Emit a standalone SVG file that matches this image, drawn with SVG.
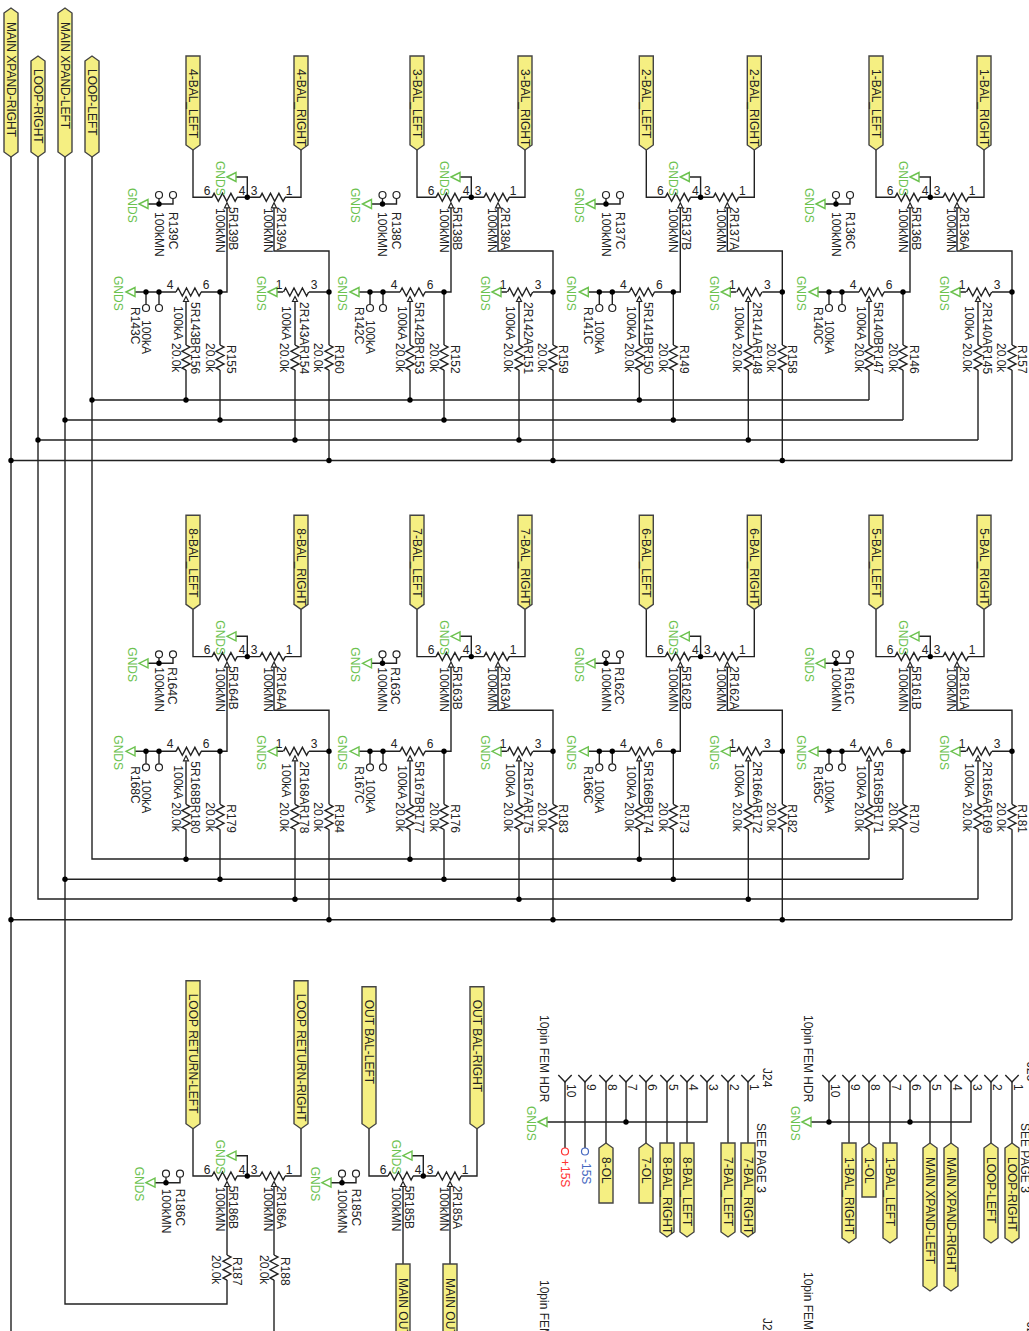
<svg xmlns="http://www.w3.org/2000/svg" width="1029" height="1331" viewBox="0 0 1029 1331">
<style>
text{font:12px "Liberation Sans",Arial,sans-serif;fill:#222}
.n{text-anchor:middle}
.g{fill:#6cc24f}
.w{fill:none;stroke:#222;stroke-width:1.4}
.t{fill:#f5ef82;stroke:#444;stroke-width:1.4}
.gt{fill:#fff;stroke:#6cc24f;stroke-width:1.4}
.o{fill:#fff;stroke:#222;stroke-width:1.2}
.d{fill:#000}
</style>
<defs>
<path id="zh" class="w" d="M0 0l2.1-4 4.2 8 4.2-8 4.2 8 4.2-8 4.2 8 2.1-4"/>
<path id="zv" class="w" d="M0 0l4 2.1-8 4.2 8 4.2-8 4.2 8 4.2-8 4.2 4 2.1"/>
<path id="wp" class="o" d="M0 5.5L2.5 10.5H-2.5Z"/>
<path id="gnd" class="gt" d="M0 0L9-4.5V4.5Z"/>
<circle id="dot" class="d" r="2.7"/>
<circle id="oc" class="o" r="3.5"/>
<path id="tagB" class="t" d="M-7 0H7V89L0 94-7 89Z"/>
<path id="uw" class="w" d="M193 150V197.3H212M237 197.3H260M285 197.3H301V150M236 177H247.3V197.3"/>
<path id="lw" class="w" d="M227 207.7V292H201M176 292H135M146 292V304.5M159 292V304.5M186 302V345M186 370V400M220 292V345M220 370V420M295 302V345M295 370V440M274 207.7V251H329V345M329 370V460.5M276 292H283M309 292H329"/>
<path id="cw" class="w" d="M148 204H173V198.5M159 198.5V204"/>
<g id="upot">
<use href="#zh" x="212" y="197.3"/><use href="#zh" x="260" y="197.3"/>
<use href="#wp" x="227" y="197.3"/><use href="#wp" x="274" y="197.3"/>
<use href="#dot" x="247.3" y="197.3"/><use href="#gnd" x="227" y="177"/>
</g>
<g id="lpot">
<use href="#zh" x="176" y="292"/><use href="#zh" x="283.500" y="292"/>
<use href="#wp" x="186" y="291"/><use href="#wp" x="295" y="291"/>
<use href="#zv" x="186" y="345"/><use href="#zv" x="220" y="345"/><use href="#zv" x="295" y="345"/><use href="#zv" x="329" y="345"/>
<use href="#dot" x="146" y="292"/><use href="#dot" x="159" y="292"/><use href="#dot" x="220" y="292"/><use href="#dot" x="329" y="292"/>
<use href="#oc" x="146" y="308"/><use href="#oc" x="159" y="308"/>
<use href="#gnd" x="126" y="292"/><use href="#gnd" x="268" y="292"/>
</g>
<g id="csym">
<use href="#oc" x="159" y="195"/><use href="#oc" x="173" y="195"/><use href="#dot" x="159" y="204"/><use href="#gnd" x="139" y="204"/>
</g>
</defs>

<g id="connectors">
<path class="w" d="M11 157V1331M38 157V899H978M65 157V1304H227V1280M92 157V859H869M92 400H869M65 420H903M38 440H978M11 460.500H1012M65 879.300H903M11 919.800H1012"/>
<path class="w" d="M274 1280V1331M227 1186V1255M274 1186V1255M403 1186V1264M450 1186V1264"/>
<use href="#uw"/><use href="#lw"/><use href="#uw" x="224"/><use href="#lw" x="224"/><use href="#uw" x="453.300"/><use href="#lw" x="453.300"/><use href="#uw" x="683"/><use href="#lw" x="683"/>
<use href="#uw" y="459.300"/><use href="#lw" y="459.300"/><use href="#uw" x="224" y="459.300"/><use href="#lw" x="224" y="459.300"/><use href="#uw" x="453.300" y="459.300"/><use href="#lw" x="453.300" y="459.300"/><use href="#uw" x="683" y="459.300"/><use href="#lw" x="683" y="459.300"/>
<use href="#uw" y="978.700"/><use href="#uw" x="176" y="978.700"/>
<use href="#cw"/><use href="#cw" x="223.500"/><use href="#cw" x="447"/><use href="#cw" x="677"/>
<use href="#cw" y="459.300"/><use href="#cw" x="223.500" y="459.300"/><use href="#cw" x="447" y="459.300"/><use href="#cw" x="677" y="459.300"/>
<use href="#cw" x="7" y="978.700"/><use href="#cw" x="183" y="978.700"/>
<path class="w" d="M558.300 1075L565 1082 571.700 1075M578.300 1075L585 1082 591.700 1075M599.300 1075L606 1082 612.700 1075M619.300 1075L626 1082 632.700 1075M639.300 1075L646 1082 652.700 1075M660.300 1075L667 1082 673.700 1075M680.300 1075L687 1082 693.700 1075M700.300 1075L707 1082 713.700 1075M721.300 1075L728 1082 734.700 1075M741.300 1075L748 1082 754.700 1075"/>
<path class="w" d="M565 1082V1148M585 1082V1148M606 1082V1143M626 1082V1122M646 1082V1143M667 1082V1143M687 1082V1143M707 1082V1122H547M728 1082V1143M748 1082V1143"/>
<path class="w" d="M822.300 1075L829 1082 835.700 1075M842.300 1075L849 1082 855.700 1075M862.300 1075L869 1082 875.700 1075M883.300 1075L890 1082 896.700 1075M903.300 1075L910 1082 916.700 1075M923.300 1075L930 1082 936.700 1075M944.300 1075L951 1082 957.700 1075M964.300 1075L971 1082 977.700 1075M984.300 1075L991 1082 997.700 1075M1005.300 1075L1012 1082 1018.700 1075"/>
<path class="w" d="M829 1082V1122M849 1082V1143M869 1082V1143M890 1082V1143M910 1082V1122M930 1082V1143M951 1082V1143M971 1082V1122H811M991 1082V1143M1012 1082V1143"/>
</g>

<g id="bus-junctions">
<use href="#dot" x="92" y="400"/><use href="#dot" x="186" y="400"/><use href="#dot" x="410" y="400"/><use href="#dot" x="639.300" y="400"/>
<use href="#dot" x="65" y="420"/><use href="#dot" x="220" y="420"/><use href="#dot" x="444" y="420"/><use href="#dot" x="673.300" y="420"/>
<use href="#dot" x="38" y="440"/><use href="#dot" x="295" y="440"/><use href="#dot" x="519" y="440"/><use href="#dot" x="748.300" y="440"/>
<use href="#dot" x="11" y="460.500"/><use href="#dot" x="329" y="460.500"/><use href="#dot" x="553" y="460.500"/><use href="#dot" x="782.300" y="460.500"/>
<use href="#dot" x="186" y="859.300"/><use href="#dot" x="410" y="859.300"/><use href="#dot" x="639.300" y="859.300"/>
<use href="#dot" x="65" y="879.300"/><use href="#dot" x="220" y="879.300"/><use href="#dot" x="444" y="879.300"/><use href="#dot" x="673.300" y="879.300"/>
<use href="#dot" x="295" y="899.300"/><use href="#dot" x="519" y="899.300"/><use href="#dot" x="748.300" y="899.300"/>
<use href="#dot" x="11" y="919.800"/><use href="#dot" x="329" y="919.800"/><use href="#dot" x="553" y="919.800"/><use href="#dot" x="782.300" y="919.800"/>
</g>

<g id="main-tags">
<g id="tag-main-xpand-right"><path class="t" d="M4 13L11 8 18 13V152L11 157 4 152Z"/><text transform="translate(7 22) rotate(90)">MAIN XPAND-RIGHT</text></g>
<g id="tag-loop-right"><path class="t" d="M31 61L38 56 45 61V152L38 157 31 152Z"/><text transform="translate(34 69) rotate(90)">LOOP-RIGHT</text></g>
<g id="tag-main-xpand-left"><path class="t" d="M58 13L65 8 72 13V152L65 157 58 152Z"/><text transform="translate(61 22) rotate(90)">MAIN XPAND-LEFT</text></g>
<g id="tag-loop-left"><path class="t" d="M85 61L92 56 99 61V152L92 157 85 152Z"/><text transform="translate(88 69) rotate(90)">LOOP-LEFT</text></g>
</g>

<g id="block-4">
<use href="#tagB" x="193" y="56"/><use href="#tagB" x="301" y="56"/><use href="#upot"/><use href="#lpot"/><use href="#csym"/>
<text transform="translate(189 69) rotate(90)">4-BAL_LEFT</text><text transform="translate(297 69) rotate(90)">4-BAL_RIGHT</text>
<text class="n" x="207" y="195">6</text><text class="n" x="242" y="195">4</text><text class="n" x="254" y="195">3</text><text class="n" x="289" y="195">1</text>
<text class="g" transform="translate(216 161) rotate(90)">GNDS</text><text transform="translate(216 208) rotate(90)">100kMN</text><text transform="translate(229 207) rotate(90)">5R139B</text><text transform="translate(264 208) rotate(90)">100kMN</text><text transform="translate(277 207) rotate(90)">2R139A</text>
<text class="g" transform="translate(127.500 188) rotate(90)">GNDS</text><text transform="translate(154.500 212) rotate(90)">100kMN</text><text transform="translate(168.500 212) rotate(90)">R139C</text>
<text class="n" x="170" y="288.500">4</text><text class="n" x="206" y="288.500">6</text><text class="n" x="279" y="288.500">1</text><text class="n" x="314" y="288.500">3</text>
<text class="g" transform="translate(114 276) rotate(90)">GNDS</text><text class="g" transform="translate(257 276) rotate(90)">GNDS</text>
<text transform="translate(131 307) rotate(90)">R143C</text><text transform="translate(142 320) rotate(90)">100kA</text><text transform="translate(174 306) rotate(90)">100kA</text><text transform="translate(191 302) rotate(90)">5R143BR156</text><text transform="translate(171.500 343) rotate(90)">20.0k</text><text transform="translate(205.500 343) rotate(90)">20.0k</text><text transform="translate(227 345) rotate(90)">R155</text><text transform="translate(281.500 306) rotate(90)">100kA</text><text transform="translate(299.500 302) rotate(90)">2R143AR154</text><text transform="translate(280 343) rotate(90)">20.0k</text><text transform="translate(313.500 343) rotate(90)">20.0k</text><text transform="translate(335 345) rotate(90)">R160</text>
</g>

<g id="block-3" transform="translate(224 0)">
<use href="#tagB" x="193" y="56"/><use href="#tagB" x="301" y="56"/><use href="#upot"/><use href="#lpot"/>
<text transform="translate(189 69) rotate(90)">3-BAL_LEFT</text><text transform="translate(297 69) rotate(90)">3-BAL_RIGHT</text>
<text class="n" x="207" y="195">6</text><text class="n" x="242" y="195">4</text><text class="n" x="254" y="195">3</text><text class="n" x="289" y="195">1</text>
<text class="g" transform="translate(216 161) rotate(90)">GNDS</text><text transform="translate(216 208) rotate(90)">100kMN</text><text transform="translate(229 207) rotate(90)">5R138B</text><text transform="translate(264 208) rotate(90)">100kMN</text><text transform="translate(277 207) rotate(90)">2R138A</text>
<text class="n" x="170" y="288.500">4</text><text class="n" x="206" y="288.500">6</text><text class="n" x="279" y="288.500">1</text><text class="n" x="314" y="288.500">3</text>
<text class="g" transform="translate(114 276) rotate(90)">GNDS</text><text class="g" transform="translate(257 276) rotate(90)">GNDS</text>
<text transform="translate(131 307) rotate(90)">R142C</text><text transform="translate(142 320) rotate(90)">100kA</text><text transform="translate(174 306) rotate(90)">100kA</text><text transform="translate(191 302) rotate(90)">5R142BR153</text><text transform="translate(171.500 343) rotate(90)">20.0k</text><text transform="translate(205.500 343) rotate(90)">20.0k</text><text transform="translate(227 345) rotate(90)">R152</text><text transform="translate(281.500 306) rotate(90)">100kA</text><text transform="translate(299.500 302) rotate(90)">2R142AR151</text><text transform="translate(280 343) rotate(90)">20.0k</text><text transform="translate(313.500 343) rotate(90)">20.0k</text><text transform="translate(335 345) rotate(90)">R159</text>
</g>
<g id="cap-R138C" transform="translate(223.500 0)"><use href="#csym"/><text class="g" transform="translate(127.500 188) rotate(90)">GNDS</text><text transform="translate(154.500 212) rotate(90)">100kMN</text><text transform="translate(168.500 212) rotate(90)">R138C</text></g>

<g id="block-2" transform="translate(453.300 0)">
<use href="#tagB" x="193" y="56"/><use href="#tagB" x="301" y="56"/><use href="#upot"/><use href="#lpot"/>
<text transform="translate(189 69) rotate(90)">2-BAL_LEFT</text><text transform="translate(297 69) rotate(90)">2-BAL_RIGHT</text>
<text class="n" x="207" y="195">6</text><text class="n" x="242" y="195">4</text><text class="n" x="254" y="195">3</text><text class="n" x="289" y="195">1</text>
<text class="g" transform="translate(216 161) rotate(90)">GNDS</text><text transform="translate(216 208) rotate(90)">100kMN</text><text transform="translate(229 207) rotate(90)">5R137B</text><text transform="translate(264 208) rotate(90)">100kMN</text><text transform="translate(277 207) rotate(90)">2R137A</text>
<text class="n" x="170" y="288.500">4</text><text class="n" x="206" y="288.500">6</text><text class="n" x="279" y="288.500">1</text><text class="n" x="314" y="288.500">3</text>
<text class="g" transform="translate(114 276) rotate(90)">GNDS</text><text class="g" transform="translate(257 276) rotate(90)">GNDS</text>
<text transform="translate(131 307) rotate(90)">R141C</text><text transform="translate(142 320) rotate(90)">100kA</text><text transform="translate(174 306) rotate(90)">100kA</text><text transform="translate(191 302) rotate(90)">5R141BR150</text><text transform="translate(171.500 343) rotate(90)">20.0k</text><text transform="translate(205.500 343) rotate(90)">20.0k</text><text transform="translate(227 345) rotate(90)">R149</text><text transform="translate(281.500 306) rotate(90)">100kA</text><text transform="translate(299.500 302) rotate(90)">2R141AR148</text><text transform="translate(280 343) rotate(90)">20.0k</text><text transform="translate(313.500 343) rotate(90)">20.0k</text><text transform="translate(335 345) rotate(90)">R158</text>
</g>
<g id="cap-R137C" transform="translate(447 0)"><use href="#csym"/><text class="g" transform="translate(127.500 188) rotate(90)">GNDS</text><text transform="translate(154.500 212) rotate(90)">100kMN</text><text transform="translate(168.500 212) rotate(90)">R137C</text></g>

<g id="block-1" transform="translate(683 0)">
<use href="#tagB" x="193" y="56"/><use href="#tagB" x="301" y="56"/><use href="#upot"/><use href="#lpot"/>
<text transform="translate(189 69) rotate(90)">1-BAL_LEFT</text><text transform="translate(297 69) rotate(90)">1-BAL_RIGHT</text>
<text class="n" x="207" y="195">6</text><text class="n" x="242" y="195">4</text><text class="n" x="254" y="195">3</text><text class="n" x="289" y="195">1</text>
<text class="g" transform="translate(216 161) rotate(90)">GNDS</text><text transform="translate(216 208) rotate(90)">100kMN</text><text transform="translate(229 207) rotate(90)">5R136B</text><text transform="translate(264 208) rotate(90)">100kMN</text><text transform="translate(277 207) rotate(90)">2R136A</text>
<text class="n" x="170" y="288.500">4</text><text class="n" x="206" y="288.500">6</text><text class="n" x="279" y="288.500">1</text><text class="n" x="314" y="288.500">3</text>
<text class="g" transform="translate(114 276) rotate(90)">GNDS</text><text class="g" transform="translate(257 276) rotate(90)">GNDS</text>
<text transform="translate(131 307) rotate(90)">R140C</text><text transform="translate(142 320) rotate(90)">100kA</text><text transform="translate(174 306) rotate(90)">100kA</text><text transform="translate(191 302) rotate(90)">5R140BR147</text><text transform="translate(171.500 343) rotate(90)">20.0k</text><text transform="translate(205.500 343) rotate(90)">20.0k</text><text transform="translate(227 345) rotate(90)">R146</text><text transform="translate(281.500 306) rotate(90)">100kA</text><text transform="translate(299.500 302) rotate(90)">2R140AR145</text><text transform="translate(280 343) rotate(90)">20.0k</text><text transform="translate(313.500 343) rotate(90)">20.0k</text><text transform="translate(335 345) rotate(90)">R157</text>
</g>
<g id="cap-R136C" transform="translate(677 0)"><use href="#csym"/><text class="g" transform="translate(127.500 188) rotate(90)">GNDS</text><text transform="translate(154.500 212) rotate(90)">100kMN</text><text transform="translate(168.500 212) rotate(90)">R136C</text></g>

<g id="block-8" transform="translate(0 459.300)">
<use href="#tagB" x="193" y="56"/><use href="#tagB" x="301" y="56"/><use href="#upot"/><use href="#lpot"/>
<text transform="translate(189 69) rotate(90)">8-BAL_LEFT</text><text transform="translate(297 69) rotate(90)">8-BAL_RIGHT</text>
<text class="n" x="207" y="195">6</text><text class="n" x="242" y="195">4</text><text class="n" x="254" y="195">3</text><text class="n" x="289" y="195">1</text>
<text class="g" transform="translate(216 161) rotate(90)">GNDS</text><text transform="translate(216 208) rotate(90)">100kMN</text><text transform="translate(229 207) rotate(90)">5R164B</text><text transform="translate(264 208) rotate(90)">100kMN</text><text transform="translate(277 207) rotate(90)">2R164A</text>
<text class="n" x="170" y="288.500">4</text><text class="n" x="206" y="288.500">6</text><text class="n" x="279" y="288.500">1</text><text class="n" x="314" y="288.500">3</text>
<text class="g" transform="translate(114 276) rotate(90)">GNDS</text><text class="g" transform="translate(257 276) rotate(90)">GNDS</text>
<text transform="translate(131 307) rotate(90)">R168C</text><text transform="translate(142 320) rotate(90)">100kA</text><text transform="translate(174 306) rotate(90)">100kA</text><text transform="translate(191 302) rotate(90)">5R168BR180</text><text transform="translate(171.500 343) rotate(90)">20.0k</text><text transform="translate(205.500 343) rotate(90)">20.0k</text><text transform="translate(227 345) rotate(90)">R179</text><text transform="translate(281.500 304) rotate(90)">100kA</text><text transform="translate(299.500 302) rotate(90)">2R168AR178</text><text transform="translate(280 343) rotate(90)">20.0k</text><text transform="translate(313.500 343) rotate(90)">20.0k</text><text transform="translate(335 345) rotate(90)">R184</text>
<use href="#csym"/><text class="g" transform="translate(127.500 188) rotate(90)">GNDS</text><text transform="translate(154.500 208) rotate(90)">100kMN</text><text transform="translate(167.500 208) rotate(90)">R164C</text>
</g>

<g id="block-7" transform="translate(224 459.300)">
<use href="#tagB" x="193" y="56"/><use href="#tagB" x="301" y="56"/><use href="#upot"/><use href="#lpot"/>
<text transform="translate(189 69) rotate(90)">7-BAL_LEFT</text><text transform="translate(297 69) rotate(90)">7-BAL_RIGHT</text>
<text class="n" x="207" y="195">6</text><text class="n" x="242" y="195">4</text><text class="n" x="254" y="195">3</text><text class="n" x="289" y="195">1</text>
<text class="g" transform="translate(216 161) rotate(90)">GNDS</text><text transform="translate(216 208) rotate(90)">100kMN</text><text transform="translate(229 207) rotate(90)">5R163B</text><text transform="translate(264 208) rotate(90)">100kMN</text><text transform="translate(277 207) rotate(90)">2R163A</text>
<text class="n" x="170" y="288.500">4</text><text class="n" x="206" y="288.500">6</text><text class="n" x="279" y="288.500">1</text><text class="n" x="314" y="288.500">3</text>
<text class="g" transform="translate(114 276) rotate(90)">GNDS</text><text class="g" transform="translate(257 276) rotate(90)">GNDS</text>
<text transform="translate(131 307) rotate(90)">R167C</text><text transform="translate(142 320) rotate(90)">100kA</text><text transform="translate(174 306) rotate(90)">100kA</text><text transform="translate(191 302) rotate(90)">5R167BR177</text><text transform="translate(171.500 343) rotate(90)">20.0k</text><text transform="translate(205.500 343) rotate(90)">20.0k</text><text transform="translate(227 345) rotate(90)">R176</text><text transform="translate(281.500 304) rotate(90)">100kA</text><text transform="translate(299.500 302) rotate(90)">2R167AR175</text><text transform="translate(280 343) rotate(90)">20.0k</text><text transform="translate(313.500 343) rotate(90)">20.0k</text><text transform="translate(335 345) rotate(90)">R183</text>
</g>
<g id="cap-R163C" transform="translate(223.500 459.300)"><use href="#csym"/><text class="g" transform="translate(127.500 188) rotate(90)">GNDS</text><text transform="translate(154.500 208) rotate(90)">100kMN</text><text transform="translate(167.500 208) rotate(90)">R163C</text></g>

<g id="block-6" transform="translate(453.300 459.300)">
<use href="#tagB" x="193" y="56"/><use href="#tagB" x="301" y="56"/><use href="#upot"/><use href="#lpot"/>
<text transform="translate(189 69) rotate(90)">6-BAL_LEFT</text><text transform="translate(297 69) rotate(90)">6-BAL_RIGHT</text>
<text class="n" x="207" y="195">6</text><text class="n" x="242" y="195">4</text><text class="n" x="254" y="195">3</text><text class="n" x="289" y="195">1</text>
<text class="g" transform="translate(216 161) rotate(90)">GNDS</text><text transform="translate(216 208) rotate(90)">100kMN</text><text transform="translate(229 207) rotate(90)">5R162B</text><text transform="translate(264 208) rotate(90)">100kMN</text><text transform="translate(277 207) rotate(90)">2R162A</text>
<text class="n" x="170" y="288.500">4</text><text class="n" x="206" y="288.500">6</text><text class="n" x="279" y="288.500">1</text><text class="n" x="314" y="288.500">3</text>
<text class="g" transform="translate(114 276) rotate(90)">GNDS</text><text class="g" transform="translate(257 276) rotate(90)">GNDS</text>
<text transform="translate(131 307) rotate(90)">R166C</text><text transform="translate(142 320) rotate(90)">100kA</text><text transform="translate(174 306) rotate(90)">100kA</text><text transform="translate(191 302) rotate(90)">5R166BR174</text><text transform="translate(171.500 343) rotate(90)">20.0k</text><text transform="translate(205.500 343) rotate(90)">20.0k</text><text transform="translate(227 345) rotate(90)">R173</text><text transform="translate(281.500 304) rotate(90)">100kA</text><text transform="translate(299.500 302) rotate(90)">2R166AR172</text><text transform="translate(280 343) rotate(90)">20.0k</text><text transform="translate(313.500 343) rotate(90)">20.0k</text><text transform="translate(335 345) rotate(90)">R182</text>
</g>
<g id="cap-R162C" transform="translate(447 459.300)"><use href="#csym"/><text class="g" transform="translate(127.500 188) rotate(90)">GNDS</text><text transform="translate(154.500 208) rotate(90)">100kMN</text><text transform="translate(167.500 208) rotate(90)">R162C</text></g>

<g id="block-5" transform="translate(683 459.300)">
<use href="#tagB" x="193" y="56"/><use href="#tagB" x="301" y="56"/><use href="#upot"/><use href="#lpot"/>
<text transform="translate(189 69) rotate(90)">5-BAL_LEFT</text><text transform="translate(297 69) rotate(90)">5-BAL_RIGHT</text>
<text class="n" x="207" y="195">6</text><text class="n" x="242" y="195">4</text><text class="n" x="254" y="195">3</text><text class="n" x="289" y="195">1</text>
<text class="g" transform="translate(216 161) rotate(90)">GNDS</text><text transform="translate(216 208) rotate(90)">100kMN</text><text transform="translate(229 207) rotate(90)">5R161B</text><text transform="translate(264 208) rotate(90)">100kMN</text><text transform="translate(277 207) rotate(90)">2R161A</text>
<text class="n" x="170" y="288.500">4</text><text class="n" x="206" y="288.500">6</text><text class="n" x="279" y="288.500">1</text><text class="n" x="314" y="288.500">3</text>
<text class="g" transform="translate(114 276) rotate(90)">GNDS</text><text class="g" transform="translate(257 276) rotate(90)">GNDS</text>
<text transform="translate(131 307) rotate(90)">R165C</text><text transform="translate(142 320) rotate(90)">100kA</text><text transform="translate(174 306) rotate(90)">100kA</text><text transform="translate(191 302) rotate(90)">5R165BR171</text><text transform="translate(171.500 343) rotate(90)">20.0k</text><text transform="translate(205.500 343) rotate(90)">20.0k</text><text transform="translate(227 345) rotate(90)">R170</text><text transform="translate(281.500 304) rotate(90)">100kA</text><text transform="translate(299.500 302) rotate(90)">2R165AR169</text><text transform="translate(280 343) rotate(90)">20.0k</text><text transform="translate(313.500 343) rotate(90)">20.0k</text><text transform="translate(335 345) rotate(90)">R181</text>
</g>
<g id="cap-R161C" transform="translate(677 459.300)"><use href="#csym"/><text class="g" transform="translate(127.500 188) rotate(90)">GNDS</text><text transform="translate(154.500 208) rotate(90)">100kMN</text><text transform="translate(167.500 208) rotate(90)">R161C</text></g>

<g id="block-loop-return" transform="translate(0 978.700)">
<use href="#upot"/>
<path class="t" d="M186 2H200V145L193 150 186 145Z"/><path class="t" d="M294 2H308V145L301 150 294 145Z"/>
<text transform="translate(189 15) rotate(90)">LOOP RETURN-LEFT</text><text transform="translate(297 15) rotate(90)">LOOP RETURN-RIGHT</text>
<text class="n" x="207" y="195">6</text><text class="n" x="242" y="195">4</text><text class="n" x="254" y="195">3</text><text class="n" x="289" y="195">1</text>
<text class="g" transform="translate(216 161) rotate(90)">GNDS</text><text transform="translate(216 208) rotate(90)">100kMN</text><text transform="translate(229 207) rotate(90)">5R186B</text><text transform="translate(264 208) rotate(90)">100kMN</text><text transform="translate(277 207) rotate(90)">2R186A</text>
</g>
<g id="R187"><use href="#zv" x="227" y="1255"/><text transform="translate(233 1257) rotate(90)">R187</text><text transform="translate(211.500 1255) rotate(90)">20.0k</text></g>
<g id="R188"><use href="#zv" x="274" y="1255"/><text transform="translate(281 1257) rotate(90)">R188</text><text transform="translate(259.500 1255) rotate(90)">20.0k</text></g>
<g id="cap-R186C" transform="translate(7 978.700)"><use href="#csym"/><text class="g" transform="translate(127.500 188) rotate(90)">GNDS</text><text transform="translate(154.500 210) rotate(90)">100kMN</text><text transform="translate(168.500 210) rotate(90)">R186C</text></g>

<g id="block-out-bal" transform="translate(176 978.700)">
<use href="#upot"/>
<path class="t" d="M186 8H200V145L193 150 186 145Z"/><path class="t" d="M294 8H308V145L301 150 294 145Z"/>
<text transform="translate(189 21) rotate(90)">OUT BAL-LEFT</text><text transform="translate(297 21) rotate(90)">OUT BAL-RIGHT</text>
<text class="n" x="207" y="195">6</text><text class="n" x="242" y="195">4</text><text class="n" x="254" y="195">3</text><text class="n" x="289" y="195">1</text>
<text class="g" transform="translate(216 161) rotate(90)">GNDS</text><text transform="translate(216 208) rotate(90)">100kMN</text><text transform="translate(229 207) rotate(90)">5R185B</text><text transform="translate(264 208) rotate(90)">100kMN</text><text transform="translate(277 207) rotate(90)">2R185A</text>
</g>
<g id="cap-R185C" transform="translate(183 978.700)"><use href="#csym"/><text class="g" transform="translate(127.500 188) rotate(90)">GNDS</text><text transform="translate(154.500 210) rotate(90)">100kMN</text><text transform="translate(168.500 210) rotate(90)">R185C</text></g>
<g id="tag-main-out-l"><path class="t" d="M396 1264H410V1340H396Z"/><text transform="translate(399 1278) rotate(90)">MAIN OUT</text></g>
<g id="tag-main-out-r"><path class="t" d="M443 1264H457V1340H443Z"/><text transform="translate(446 1278) rotate(90)">MAIN OUT</text></g>

<g id="J24">
<use href="#dot" x="626" y="1122"/><use href="#gnd" x="538" y="1122"/>
<text class="g" transform="translate(527 1106) rotate(90)">GNDS</text>
<text transform="translate(540 1015) rotate(90)">10pin FEM HDR</text><text transform="translate(763 1068) rotate(90)">J24</text><text transform="translate(757 1123) rotate(90)">SEE PAGE 3</text>
<text transform="translate(567 1084) rotate(90)">10</text><text transform="translate(587 1084) rotate(90)">9</text><text transform="translate(608 1084) rotate(90)">8</text><text transform="translate(628 1084) rotate(90)">7</text><text transform="translate(648 1084) rotate(90)">6</text><text transform="translate(669 1084) rotate(90)">5</text><text transform="translate(689 1084) rotate(90)">4</text><text transform="translate(709 1084) rotate(90)">3</text><text transform="translate(730 1084) rotate(90)">2</text><text transform="translate(750 1084) rotate(90)">1</text>
<circle cx="565" cy="1151.500" r="3.500" fill="#fff" stroke="#f33" stroke-width="1.2"/><text transform="translate(561 1159) rotate(90)" style="fill:#f33">+15S</text>
<circle cx="585" cy="1151.500" r="3.500" fill="#fff" stroke="#4668c0" stroke-width="1.2"/><text transform="translate(581.500 1159) rotate(90)" style="fill:#4668c0">-15S</text>
<path class="t" d="M599 1148L606 1143 613 1148V1203H599Z"/><text transform="translate(602 1157) rotate(90)">8-OL</text>
<path class="t" d="M639 1148L646 1143 653 1148V1203H639Z"/><text transform="translate(642 1157) rotate(90)">7-OL</text>
<path class="t" d="M660 1143H674V1232L667 1237 660 1232Z"/><text transform="translate(663 1157) rotate(90)">8-BAL_RIGHT</text>
<path class="t" d="M680 1143H694V1232L687 1237 680 1232Z"/><text transform="translate(683 1157) rotate(90)">8-BAL_LEFT</text>
<path class="t" d="M721 1143H735V1232L728 1237 721 1232Z"/><text transform="translate(724 1157) rotate(90)">7-BAL_LEFT</text>
<path class="t" d="M741 1143H755V1232L748 1237 741 1232Z"/><text transform="translate(744 1157) rotate(90)">7-BAL_RIGHT</text>
</g>

<g id="J25">
<use href="#dot" x="829" y="1122"/><use href="#dot" x="910" y="1122"/><use href="#gnd" x="802" y="1122"/>
<text class="g" transform="translate(791 1106) rotate(90)">GNDS</text>
<text transform="translate(803.500 1015) rotate(90)">10pin FEM HDR</text><text transform="translate(1027 1062) rotate(90)">J25</text><text transform="translate(1020.500 1123) rotate(90)">SEE PAGE 3</text>
<text transform="translate(831 1084) rotate(90)">10</text><text transform="translate(851 1084) rotate(90)">9</text><text transform="translate(871 1084) rotate(90)">8</text><text transform="translate(892 1084) rotate(90)">7</text><text transform="translate(912 1084) rotate(90)">6</text><text transform="translate(932 1084) rotate(90)">5</text><text transform="translate(953 1084) rotate(90)">4</text><text transform="translate(973 1084) rotate(90)">3</text><text transform="translate(993 1084) rotate(90)">2</text><text transform="translate(1014 1084) rotate(90)">1</text>
<path class="t" d="M842 1143H856V1238L849 1243 842 1238Z"/><text transform="translate(845 1157) rotate(90)">1-BAL_RIGHT</text>
<path class="t" d="M862 1148L869 1143 876 1148V1197H862Z"/><text transform="translate(865 1157) rotate(90)">1-OL</text>
<path class="t" d="M883 1143H897V1238L890 1243 883 1238Z"/><text transform="translate(886 1157) rotate(90)">1-BAL_LEFT</text>
<path class="t" d="M923 1148L930 1143 937 1148V1286L930 1291 923 1286Z"/><text transform="translate(926 1157) rotate(90)">MAIN XPAND-LEFT</text>
<path class="t" d="M944 1148L951 1143 958 1148V1286L951 1291 944 1286Z"/><text transform="translate(947 1157) rotate(90)">MAIN XPAND-RIGHT</text>
<path class="t" d="M984 1148L991 1143 998 1148V1238L991 1243 984 1238Z"/><text transform="translate(987 1157) rotate(90)">LOOP-LEFT</text>
<path class="t" d="M1005 1148L1012 1143 1019 1148V1238L1012 1243 1005 1238Z"/><text transform="translate(1008 1157) rotate(90)">LOOP-RIGHT</text>
</g>

<g id="next-sheet-headers">
<text transform="translate(540 1280) rotate(90)">10pin FEM</text><text transform="translate(763 1318) rotate(90)">J2</text>
<text transform="translate(803.500 1272) rotate(90)">10pin FEM</text><text transform="translate(1027 1322) rotate(90)">J2</text>
</g>
</svg>
